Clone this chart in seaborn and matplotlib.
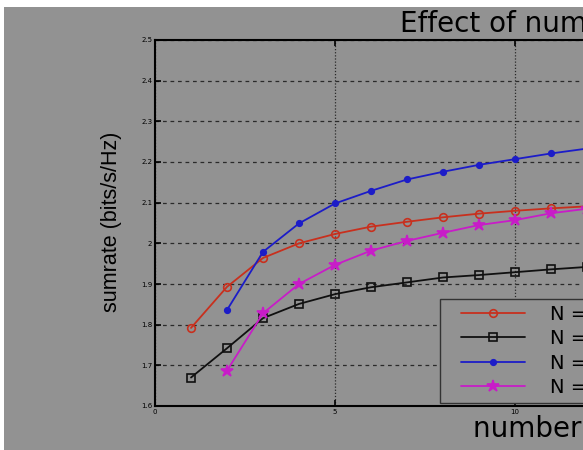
import numpy as np
import matplotlib
matplotlib.use('Agg')
import matplotlib.pyplot as plt
from matplotlib.patches import Rectangle
from matplotlib.legend_handler import HandlerLine2D
from matplotlib.ticker import FuncFormatter
import seaborn as sns
import pandas as pd

# Values
users_a = [1, 2, 3, 4, 5, 6, 7, 8, 9, 10, 11, 12]
users_b = [2, 3, 4, 5, 6, 7, 8, 9, 10, 11, 12]
rate_red = [1.792, 1.893, 1.964, 2.000, 2.023, 2.041, 2.053, 2.064, 2.073, 2.080, 2.086, 2.091]
rate_black = [1.670, 1.742, 1.816, 1.851, 1.875, 1.892, 1.904, 1.916, 1.922, 1.929, 1.936, 1.942]
rate_blue = [1.836, 1.979, 2.049, 2.098, 2.129, 2.157, 2.176, 2.193, 2.207, 2.221, 2.233]
rate_magenta = [1.687, 1.828, 1.900, 1.947, 1.982, 2.006, 2.026, 2.045, 2.057, 2.074, 2.085]

series_labels = ['N = 1', 'N = 2', 'N = 3', 'N = 4']
series_colors = ['#c8301e', '#101010', '#1c1cc8', '#c81cc8']
series_markers = ['o', 's', 'o', '*']
marker_sizes = [5.5, 6, 4, 9]
marker_faces = ['none', 'none', '#1c1cc8', '#c81cc8']

x_ticks = [0, 5, 10, 15, 20]
y_ticks = [1.6, 1.7, 1.8, 1.9, 2.0, 2.1, 2.2, 2.3, 2.4, 2.5]

# Long table for seaborn
df = pd.concat([
    pd.DataFrame({'users': users_a, 'rate': rate_red, 'series': series_labels[0]}),
    pd.DataFrame({'users': users_a, 'rate': rate_black, 'series': series_labels[1]}),
    pd.DataFrame({'users': users_b, 'rate': rate_blue, 'series': series_labels[2]}),
    pd.DataFrame({'users': users_b, 'rate': rate_magenta, 'series': series_labels[3]}),
], ignore_index=True)

sns.set_style('ticks')
plt.rcParams['font.family'] = ['DejaVu Sans']
plt.rcParams['text.color'] = 'black'
plt.rcParams['axes.labelcolor'] = 'black'

bg = '#929292'
fig = plt.figure(figsize=(5.83, 4.5), dpi=100, facecolor='white')
# gray picture area with a thin white margin at top and left
fig.add_artist(Rectangle((4 / 583, 0), 1, 443 / 450, transform=fig.transFigure,
                         facecolor=bg, edgecolor='none', zorder=-10))

# axes run past the right edge of the picture (cropped original)
ax = fig.add_axes([155 / 583, 44 / 450, 720 / 583, 366 / 450])
ax.set_facecolor(bg)

for lab, col, mk, ms, mfc in zip(series_labels, series_colors, series_markers,
                                 marker_sizes, marker_faces):
    sub = df[df['series'] == lab]
    sns.lineplot(data=sub, x='users', y='rate', ax=ax, color=col, marker=mk,
                 markersize=ms, markerfacecolor=mfc, markeredgecolor=col,
                 markeredgewidth=1.2, linewidth=1.3, label=lab, legend=False,
                 errorbar=None)

ax.set_xlim(0, 20)
ax.set_ylim(1.6, 2.5)
ax.set_xticks(x_ticks)
ax.set_yticks(y_ticks)
fmt = FuncFormatter(lambda v, p: '%g' % round(v, 2))
ax.xaxis.set_major_formatter(fmt)
ax.yaxis.set_major_formatter(fmt)
ax.tick_params(direction='in', length=4, width=1.2, labelsize=5, top=True,
               right=True, pad=2, colors='black')

ax.yaxis.grid(True, linestyle=(0, (3, 3)), color='#2a2a2a', linewidth=0.9)
ax.xaxis.grid(True, linestyle=(0, (1, 1.5)), color='#2a2a2a', linewidth=0.9)
ax.set_axisbelow(True)

for s in ax.spines.values():
    s.set_visible(True)
    s.set_linewidth(1.5)
    s.set_color('black')

# Text
t = ax.set_title('Effect of number of users', loc='left', fontsize=20, pad=6,
                 color='black')
t.set_x((400 - 155) / 720)

ax.set_xlabel('number of users', fontsize=20, ha='left', va='baseline')
ax.xaxis.set_label_coords((473 - 155) / 720, (406 - 436.7) / 366)

ax.set_ylabel('sumrate (bits/s/Hz)', fontsize=15.5, family='Liberation Sans',
              va='center')
ax.yaxis.set_label_coords((111.7 - 155) / 720, 0.504)

# Legend
handles, labs = ax.get_legend_handles_labels()
leg = ax.legend(handles, labs, loc='upper left',
                bbox_to_anchor=(440 / 583, 1 - 299 / 450),
                bbox_transform=fig.transFigure, borderaxespad=0, fontsize=14,
                handlelength=4.07, handletextpad=1.29, labelspacing=0.28,
                borderpad=0.3, frameon=True, fancybox=False, framealpha=1,
                facecolor=bg, edgecolor='#333333',
                handler_map={h: HandlerLine2D(xpad=0.77) for h in handles})
leg.get_frame().set_linewidth(1.0)

fig.savefig('out.png', dpi=100, facecolor=fig.get_facecolor())
